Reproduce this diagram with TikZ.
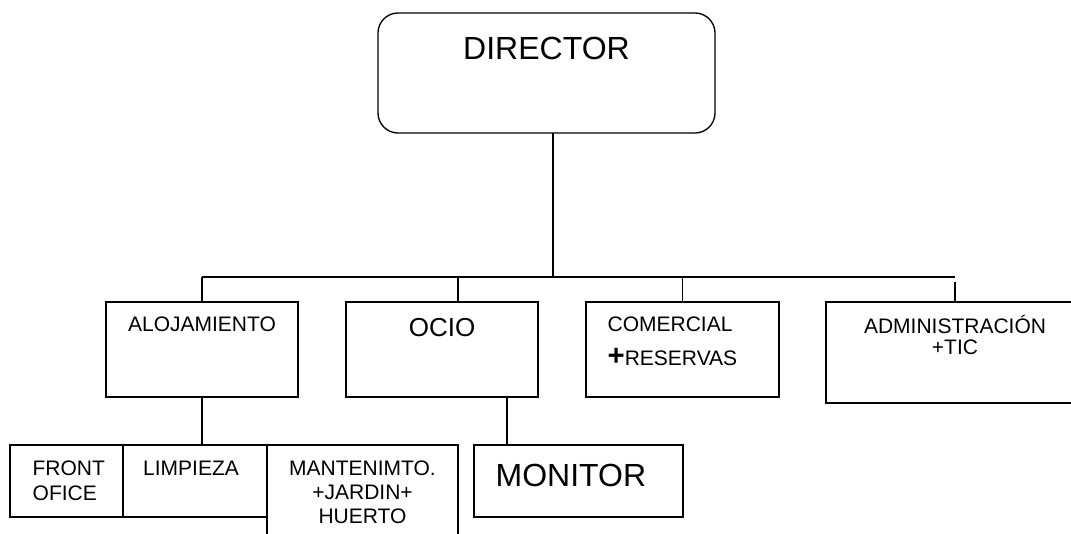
\documentclass[tikz,border=0pt]{standalone}
\usepackage{fontspec}
\setmainfont{Liberation Sans}
\usetikzlibrary{positioning, calc}
\newcommand{\fsmall}{\fontsize{15.75}{18}\selectfont}
\newcommand{\fmid}{\fontsize{19.5}{23}\selectfont}
\newcommand{\fbig}{\fontsize{24}{28}\selectfont}

\begin{document}
\begin{tikzpicture}[x=0.75pt, y=-0.75pt, line width=1pt,
    box/.style={draw, rectangle, inner sep=0pt, outer sep=0pt},
    lbl/.style={inner sep=0pt, font=\fsmall, align=center}]
        \useasboundingbox (0,0) rectangle (1071,534);
        \clip (0,0) rectangle (1071,534);

        % Top
        \node (director) [box, rounded corners=15pt, minimum width=252.75pt, minimum height=90pt] at (546.5,73) {};
        \node (director-t) [lbl, font=\fbig, anchor=base] at ([yshift=-35.25pt]director.north) {DIRECTOR};

        % Departments
        \node (aloj) [box, minimum width=144pt, minimum height=71.25pt] at (202,349.5) {};
        \node (ocio) [box, minimum width=144pt, minimum height=71.25pt] at (442,349.5) {};
        \node (comercial) [box, minimum width=144.75pt, minimum height=71.25pt] at (682.5,349.5) {};
        \node (admin) [box, minimum width=193.5pt, minimum height=75.75pt] at (955,352.5) {};

        \node (aloj-t) [lbl, anchor=base] at ([yshift=-22.5pt]aloj.north) {ALOJAMIENTO};
        \node (ocio-t) [lbl, font=\fmid, anchor=base] at ([yshift=-26.25pt]ocio.north) {OCIO};
        % multi-line labels: base = last line
        \node (comercial-t) [lbl, anchor=base west, align=left] at ([xshift=15.75pt, yshift=-48pt]comercial.north west) {COMERCIAL\\[7.5pt]{\fontsize{22}{22}\selectfont\bfseries +}RESERVAS};
        \node (admin-t) [lbl, anchor=base] at ([yshift=-39.75pt]admin.north) {ADMINISTRACIÓN\\[-2.25pt]+TIC};

        % Sections
        \node (front) [box, minimum width=84.75pt, minimum height=54pt] at (66.5,481) {};
        \node (limpieza) [box, right=0pt of front, minimum width=108pt, minimum height=54pt] {};
        \node (mant) [box, anchor=north west, minimum width=143.25pt, minimum height=90pt] at (limpieza.north east) {};
        \node (monitor) [box, minimum width=156.75pt, minimum height=54pt] at (578.5,481) {};

        \node (front-t) [lbl, anchor=base west, align=left] at ([xshift=16.5pt, yshift=-41.25pt]front.north west) {FRONT\\[0.75pt]OFICE};
        \node (limpieza-t) [lbl, anchor=base] at ([xshift=-3pt, yshift=-22.5pt]limpieza.north) {LIMPIEZA};
        \node (mant-t) [lbl, anchor=base] at ([yshift=-58.5pt]mant.north) {MANTENIMTO.\\+JARDIN+\\HUERTO};
        \node (monitor-t) [lbl, font=\fbig, anchor=base west] at ([xshift=15.75pt, yshift=-30.75pt]monitor.north west) {MONITOR};

        % Lines
        \coordinate (hub) at (553,277);
        \draw (hub |- director.south) -- (hub);
        \draw (aloj.north |- hub) -- (admin.north |- hub);
        \draw (aloj.north) -- (aloj.north |- hub);
        \coordinate (ocio-in) at ([xshift=12pt]ocio.north);
        \draw (ocio-in) -- (ocio-in |- hub);
        \draw (comercial.north) -- (comercial.north |- hub);
        \draw (admin.north) -- ($(admin.north |- hub)+(0,5)$);

        \draw (aloj.south) -- (aloj.south |- limpieza.north);
        \coordinate (ocio-out) at ([xshift=48.75pt]ocio.south);
        \draw (ocio-out) -- (ocio-out |- monitor.north);
    \end{tikzpicture}
\end{document}
